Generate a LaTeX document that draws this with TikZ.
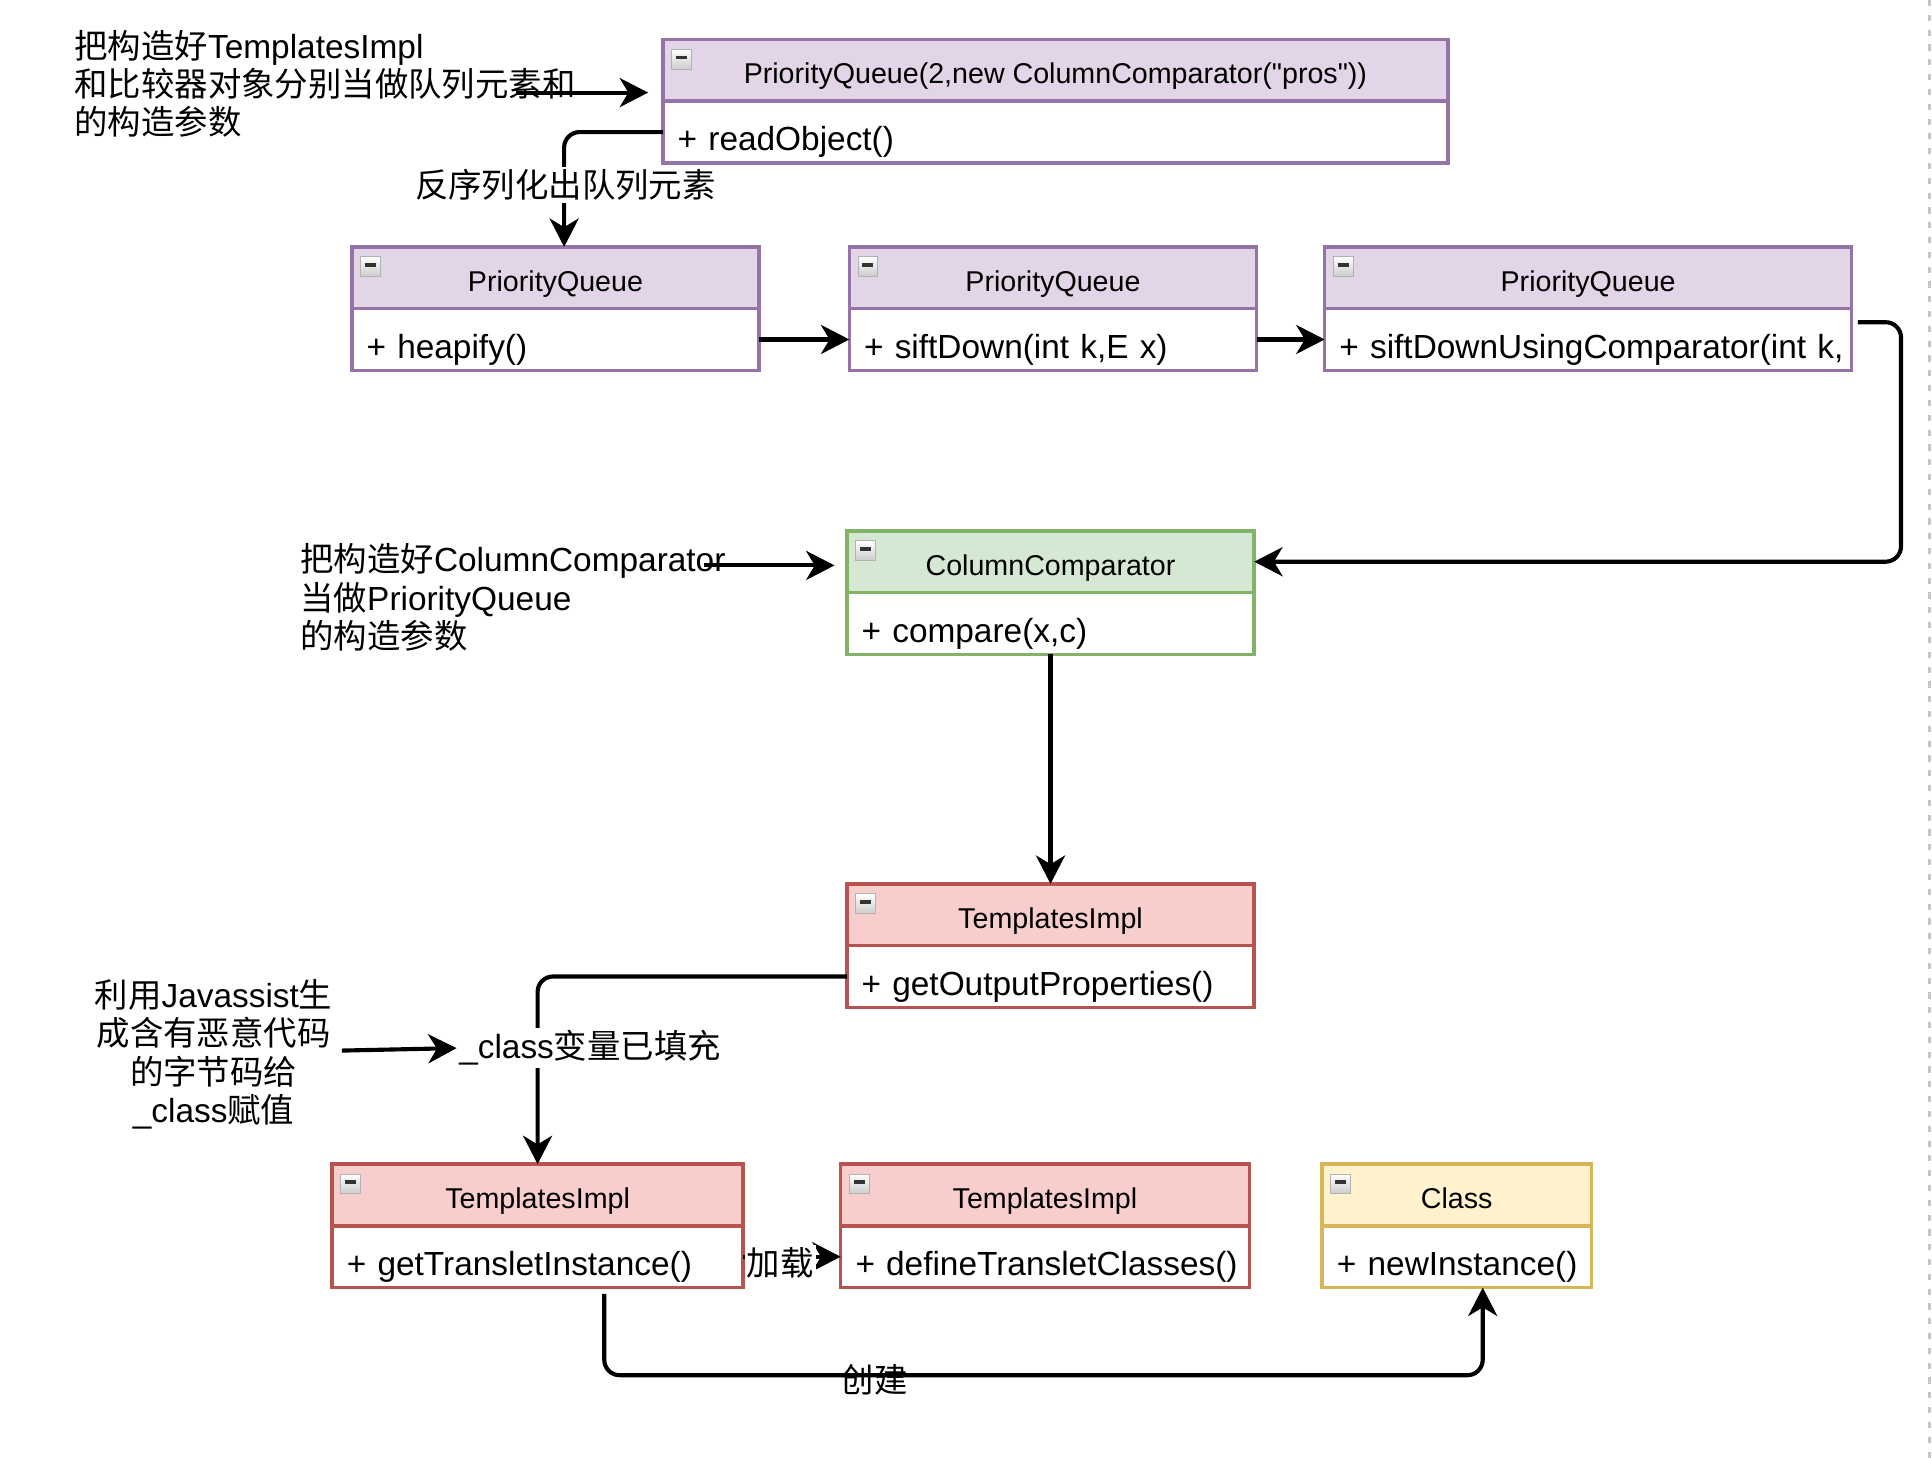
\documentclass[tikz,border=0pt]{standalone}
\usepackage{fontspec}
\setmainfont{Liberation Sans}
\newfontfamily\cjk{Noto Sans CJK SC}
\usetikzlibrary{arrows.meta,positioning,calc}

\begin{document}
\begin{tikzpicture}[x=0.02cm,y=-0.02cm,
  umlhead/.style={draw=#1line,fill=#1fill,line width=1.6pt,outer sep=0pt,inner sep=0pt,
    minimum height=1cm,anchor=north west,text height=0.48cm,text depth=0.04cm,
    font=\fontsize{13.2}{15}\selectfont},
  umlbody/.style={draw=#1line,fill=white,line width=1.6pt,outer sep=0pt,inner xsep=0.24cm,
    inner ysep=0pt,minimum height=1cm,align=left,text height=0.63cm,text depth=0.02cm,
    font=\fontsize{15.4}{18}\selectfont},
  fold/.style={draw=gray!60,line width=0.4pt,top color=white,bottom color=gray!40,
    minimum size=0.32cm,inner sep=0pt,outer sep=0pt,anchor=north west,
    path picture={\fill[black!80] ($(path picture bounding box.north west)+(0.07cm,-0.1cm)$)
      rectangle ($(path picture bounding box.north east)+(-0.07cm,-0.16cm)$);}},
  note/.style={inner sep=0pt,font=\fontsize{15.4}{17.6}\selectfont},
  tag/.style={inner sep=1pt,fill=white,font=\fontsize{15.4}{17.6}\selectfont},
  flow/.style={line width=1.9pt,rounded corners=0.25cm,
    -{Stealth[length=0.46cm,width=0.47cm,inset=0.14cm]}}]
\definecolor{purpleline}{HTML}{9673A6}
\definecolor{purplefill}{HTML}{E1D5E7}
\definecolor{greenline}{HTML}{82B366}
\definecolor{greenfill}{HTML}{D5E8D4}
\definecolor{redline}{HTML}{B85450}
\definecolor{redfill}{HTML}{F8CECC}
\definecolor{yellowline}{HTML}{D6B656}
\definecolor{yellowfill}{HTML}{FFF2CC}
\useasboundingbox (0,0) rectangle (1565,1181);
\draw[gray!45,line width=1pt,dash pattern=on 0.1cm off 0.14cm] (1563,0) -- (1563,1181);

% PriorityQueue chain
\node[umlhead=purple,minimum width=12.72cm] (pqTopHead) at (537,32)
  {PriorityQueue(2,new ColumnComparator(\textquotedbl pros\textquotedbl))};
\node[umlbody=purple,text width=12.24cm,below=0pt of pqTopHead] (pqTopBody) {\mbox{+ readObject()}};
\node[umlhead=purple,minimum width=6.6cm] (pq1Head) at (285,200) {PriorityQueue};
\node[umlbody=purple,text width=6.12cm,below=0pt of pq1Head] (pq1Body) {\mbox{+ heapify()}};
\node[umlhead=purple,minimum width=6.6cm] (pq2Head) at (688,200) {PriorityQueue};
\node[umlbody=purple,text width=6.12cm,below=0pt of pq2Head] (pq2Body) {\mbox{+ siftDown(int k,E x)}};
\node[umlhead=purple,minimum width=8.54cm] (pq3Head) at (1073,200) {PriorityQueue};
\node[umlbody=purple,text width=8.06cm,below=0pt of pq3Head] (pq3Body) {\mbox{+ siftDownUsingComparator(int k,}};

% comparator and TemplatesImpl
\node[umlhead=green,minimum width=6.6cm] (ccHead) at (686,430) {ColumnComparator};
\node[umlbody=green,text width=6.12cm,below=0pt of ccHead] (ccBody) {\mbox{+ compare(x,c)}};
\node[umlhead=red,minimum width=6.6cm] (tiHead) at (686,716) {TemplatesImpl};
\node[umlbody=red,text width=6.12cm,below=0pt of tiHead] (tiBody) {\mbox{+ getOutputProperties()}};
\node[umlhead=red,minimum width=6.66cm] (gtHead) at (269,943) {TemplatesImpl};
\node[umlbody=red,text width=6.18cm,below=0pt of gtHead] (gtBody) {\mbox{+ getTransletInstance()}};
\node[umlhead=red,minimum width=6.62cm] (dtHead) at (681,943) {TemplatesImpl};
\node[umlbody=red,text width=6.14cm,below=0pt of dtHead] (dtBody) {\mbox{+ defineTransletClasses()}};
\node[umlhead=yellow,minimum width=4.36cm] (clsHead) at (1071,943) {Class};
\node[umlbody=yellow,text width=3.88cm,below=0pt of clsHead] (clsBody) {\mbox{+ newInstance()}};

\foreach \bx in {pqTop,pq1,pq2,pq3,cc,ti,gt,dt,cls}
  \node[fold] (\bx Fold) at ([shift={(7,8)}]\bx Head.north west) {};

% notes
\node[note,anchor=west,align=left] (tplNote) at (60,68)
  {{\cjk 把构造好}TemplatesImpl\\{\cjk 和比较器对象分别当做队列元素和}\\{\cjk 的构造参数}};
\node[note,anchor=west,align=left] (ccNote) at (243,484)
  {{\cjk 把构造好}ColumnComparator\\{\cjk 当做}PriorityQueue\\{\cjk 的构造参数}};
\node[note,align=center] (jsNote) at (173,854)
  {{\cjk 利用}Javassist{\cjk 生}\\{\cjk 成含有恶意代码}\\{\cjk 的字节码给}\\\_class{\cjk 赋值}};
\coordinate (tplTail) at (418,75);
\coordinate (ccTail) at (570,458);
\coordinate (jsTail) at (277,851);

% connectors
\draw[flow,shorten >=0.24cm] (tplTail) -- (pqTopHead.west |- tplTail);
\draw[flow] (pqTopBody.west) -| ($(pq1Head.north)+(7,0)$);
\node[tag] (lblDeser) at (458,150) {\cjk 反序列化出队列元素};
\draw[flow] (pq1Body.east) -- (pq2Body.west);
\draw[flow] (pq2Body.east) -- (pq3Body.west);
\draw[flow] ([shift={(5,-14)}]pq3Body.east) -- ++(35,0) |- (ccHead.east);
\draw[flow,shorten >=0.2cm] (ccTail) -- (ccHead.west |- ccTail);
\draw[flow] (ccBody.south) -- (tiHead.north);
\draw[flow] (tiBody.west) -| (gtHead.north);
\node[tag] (lblClass) at (478,849) {\_class{\cjk 变量已填充}};
\draw[flow] (jsTail) -- (lblClass.west);
\draw[flow] (gtBody.east) -- (dtBody.west);
\node[tag] (lblLoad) at (632,1023) {\cjk 加载};
\draw[flow] ([shift={(54,5)}]gtBody.south) -- ++(0,66) -| ([xshift=12]clsBody.south);
\node[note] (lblCreate) at (708,1118) {\cjk 创建};
\end{tikzpicture}
\end{document}
